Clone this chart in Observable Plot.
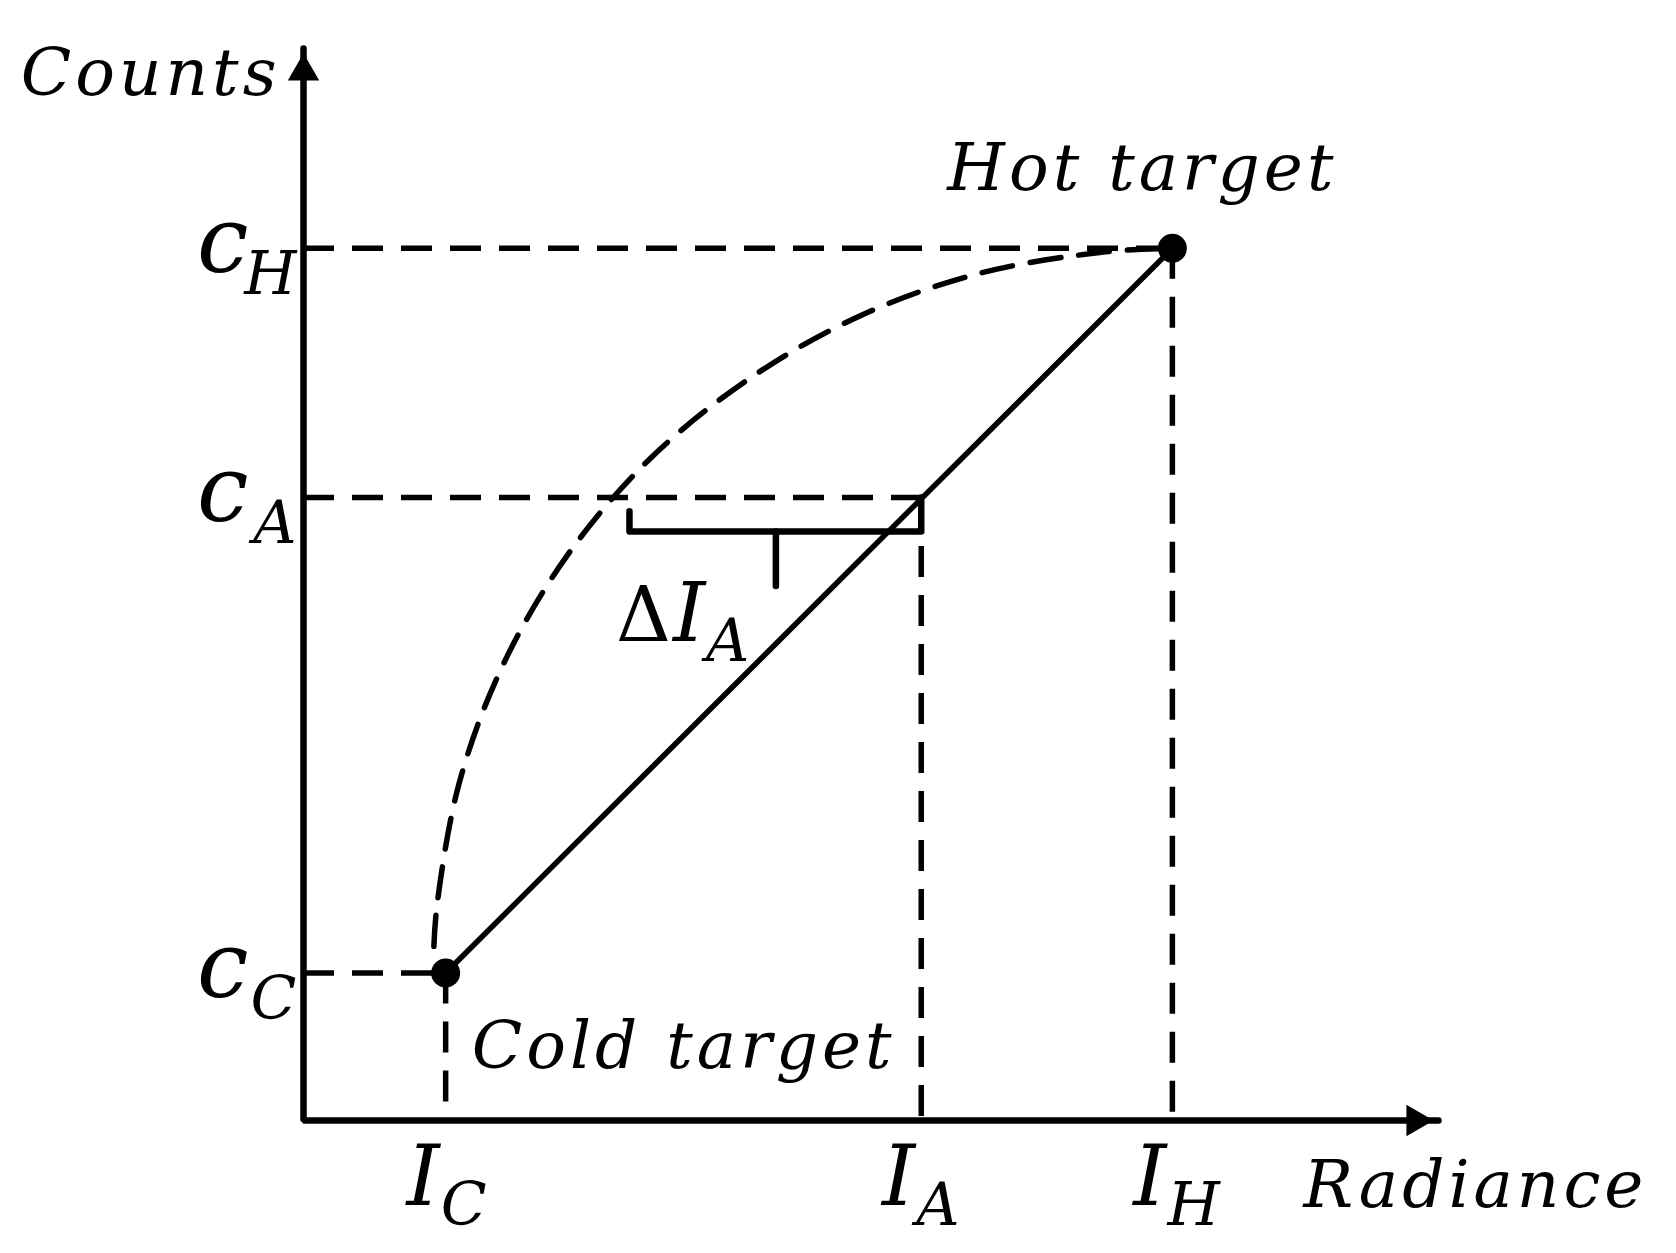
<!DOCTYPE html>
<html><head><meta charset="utf-8">
<script src="https://cdn.jsdelivr.net/npm/d3@7"></script>
<script src="https://cdn.jsdelivr.net/npm/@observablehq/plot@0.6"></script>
<style>
html,body{margin:0;padding:0;background:#fff;}
#chart svg{display:block;}
</style></head><body><div id="chart"></div>
<script>
// ---- data (arbitrary schematic units) ----
const pointNames = ["C", "A", "H"];          // subscripts: Cold, Actual, Hot
const radiance = [1.33, 5.78, 8.13];         // I_C, I_A, I_H
const counts = [1.38, 5.83, 8.16];           // c_C, c_A, c_H
const axisEnd = [10.62, 10.03];              // end of radiance axis, end of counts axis
const curveRadiance = [1.22, 1.25, 1.46, 1.87, 2.47, 3.24, 4.17, 5.21, 6.34, 7.53, 8.13];
const curveCounts   = [1.63, 2.02, 3.17, 4.27, 5.29, 6.19, 6.94, 7.53, 7.93, 8.13, 8.16];
const bracketRadiance = [3.05, 3.05, 5.78, 5.78];
const bracketCounts   = [5.70, 5.51, 5.51, 5.83];
const bracketTickRadiance = [4.42, 4.42];
const bracketTickCounts   = [5.51, 5.00];
const targetNames = ["Cold target", "Hot target"];
const axisTitles = ["Radiance", "Counts"];

// ---- derived tables ----
const pts = radiance.map((x, i) => ({x, y: counts[i], name: pointNames[i]}));
const cold = pts[0], hot = pts[2];
const curve = curveRadiance.map((x, i) => ({x, y: curveCounts[i]}));
const bracket = bracketRadiance.map((x, i) => ({x, y: bracketCounts[i], g: 0}))
  .concat(bracketTickRadiance.map((x, i) => ({x, y: bracketTickCounts[i], g: 1})));
const axisPath = [{x: 0, y: axisEnd[1]}, {x: 0, y: 0}, {x: axisEnd[0], y: 0}];

const FONT = "'DejaVu Serif', serif";
const DASH = "31,18";
const SW = 5.5;
const txt = {fontFamily: FONT, fontStyle: "italic", lineAnchor: "bottom", fill: "black"};

const chart = Plot.plot({
  width: 1676,
  height: 1253,
  marginLeft: 303,
  marginRight: 238,
  marginTop: 48,
  marginBottom: 133,
  x: {domain: [0, axisEnd[0]], axis: null},
  y: {domain: [0, axisEnd[1]], axis: null},
  style: {background: "white", overflow: "visible", letterSpacing: "4px"},
  marks: [
    // guide dashes
    Plot.ruleY(pts, {y: "y", x1: () => 0, x2: "x", stroke: "black", strokeWidth: SW, strokeDasharray: DASH}),
    Plot.ruleX(pts, {x: "x", y1: "y", y2: () => 0, stroke: "black", strokeWidth: SW, strokeDasharray: DASH}),
    // nonlinear response (dashed curve)
    Plot.line(curve, {x: "x", y: "y", curve: "catmull-rom", stroke: "black", strokeWidth: SW, strokeDasharray: DASH}),
    // linear calibration
    Plot.line([cold, hot], {x: "x", y: "y", stroke: "black", strokeWidth: SW}),
    // bracket for ΔI_A
    Plot.line(bracket, {x: "x", y: "y", z: "g", stroke: "black", strokeWidth: SW + 1, strokeLinejoin: "round"}),
    // axes
    Plot.line(axisPath, {x: "x", y: "y", stroke: "black", strokeWidth: SW + 1, strokeLinejoin: "miter"}),
    Plot.dot([axisEnd], {x: () => 0, y: d => d[1], symbol: "triangle2", r: 15, fill: "black", dy: 23}),
    Plot.dot([axisEnd], {x: d => d[0], y: () => 0, symbol: "triangle2", r: 15, fill: "black", rotate: 90, dx: -23}),
    // targets
    Plot.dot([cold, hot], {x: "x", y: "y", r: 14.5, fill: "black"}),
    // axis titles
    Plot.text([axisTitles[1]], {...txt, x: () => 0, y: () => axisEnd[1], text: d => d, textAnchor: "end", dx: -23, dy: 46, fontSize: 66}),
    Plot.text([axisTitles[0]], {...txt, x: () => axisEnd[0], y: () => 0, text: d => d, textAnchor: "middle", dx: 37, dy: 86, fontSize: 66}),
    // target labels
    Plot.text([targetNames[1]], {...txt, x: () => hot.x, y: () => hot.y, text: d => d, textAnchor: "middle", dx: -30, dy: -58, fontSize: 66}),
    Plot.text([targetNames[0]], {...txt, x: () => cold.x, y: () => cold.y, text: d => d, textAnchor: "middle", dx: 238, dy: 95, fontSize: 66}),
    // count ticks c_X
    Plot.text(pts, {...txt, x: () => 0, y: "y", text: () => "c", textAnchor: "end", dx: -51, dy: 24, fontSize: 92}),
    Plot.text(pts, {...txt, x: () => 0, y: "y", text: "name", textAnchor: "end", dx: -3, dy: 46, fontSize: 60}),
    // radiance ticks I_X
    Plot.text(pts, {...txt, x: "x", y: () => 0, text: () => "I", textAnchor: "end", dx: -2, dy: 84, fontSize: 84}),
    Plot.text(pts, {...txt, x: "x", y: () => 0, text: "name", textAnchor: "start", dx: -5, dy: 104, fontSize: 60}),
    // ΔI_A
    Plot.text([bracketTickRadiance], {...txt, fontStyle: "normal", x: d => d[1], y: () => bracketTickCounts[1], text: () => "Δ", textAnchor: "end", dx: -101, dy: 55, fontSize: 76}),
    Plot.text([bracketTickRadiance], {...txt, x: d => d[1], y: () => bracketTickCounts[1], text: () => "I", textAnchor: "start", dx: -103, dy: 55, fontSize: 82}),
    Plot.text([bracketTickRadiance], {...txt, x: d => d[1], y: () => bracketTickCounts[1], text: () => pointNames[1], textAnchor: "start", dx: -70, dy: 75, fontSize: 60})
  ]
});
document.getElementById("chart").appendChild(chart);
</script></body></html>
